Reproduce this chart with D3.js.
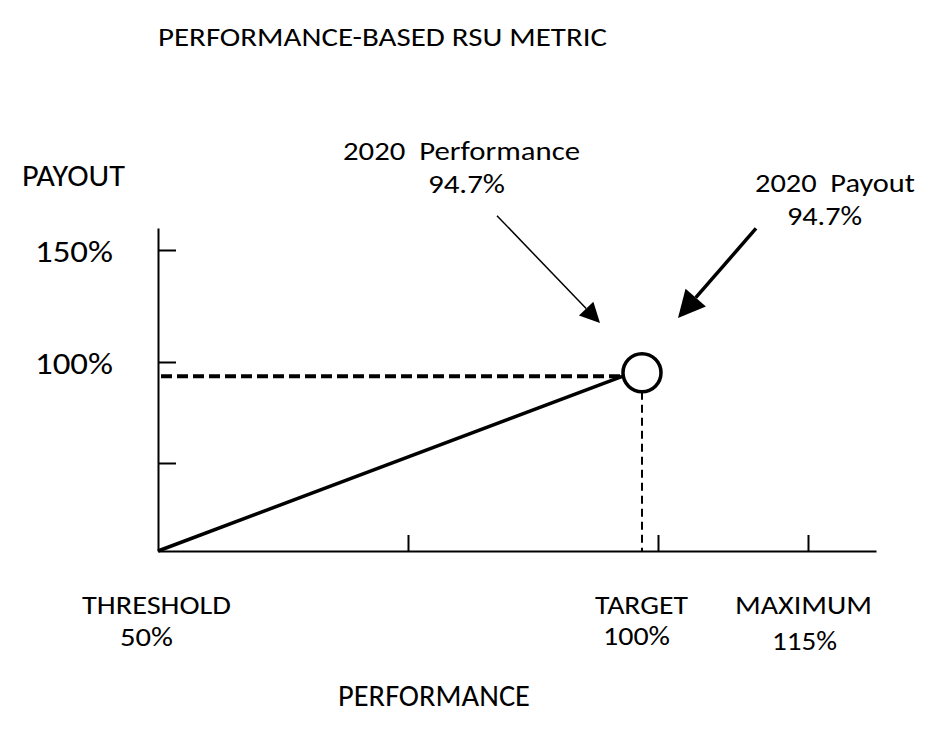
<!DOCTYPE html>
<html>
<head>
<meta charset="utf-8">
<script src="https://cdn.jsdelivr.net/npm/d3@7"></script>
<style>
  body { margin: 0; background: #fff; }
  svg text { font-family: "Carlito", "Open Sans", sans-serif; fill: #000; white-space: pre; }
</style>
</head>
<body>
<div id="chart"></div>
<script>
// --- DONNÉES ---
const perfTicks = [75, 100, 115];
const payTicks = [50, 100, 150];
const payLabels = [{ v: 150, t: "150%" }, { v: 100, t: "100%" }];
const perfLabels = [
    { v: 50, name: "THRESHOLD", pct: "50%" },
    { v: 100, name: "TARGET", pct: "100%" },
    { v: 115, name: "MAXIMUM", pct: "115%" }
];
// courbe de paiement (tracé schématique)
const payoutCurve = [{ perf: 50, pay: 0 }, { perf: 96.5, pay: 93 }];
const result = { perf: 98.4, pay: 94.7 };
const arrows = [
    { from: [83.9, 165.6], to: [94.2, 117.4], w: 1.5, head: 20, half: 10 },
    { from: [109.8, 159.8], to: [102.0, 119.6], w: 3.5, head: 27, half: 13.5 }
];

const width = 945, height = 746;

const svg = d3.select("#chart").append("svg")
    .attr("width", width).attr("height", height);

// échelles (axe Y schématique : polylinéaire)
const x = d3.scaleLinear().domain([50, 121.8]).range([158, 876]);
const y = d3.scaleLinear().domain([0, 50, 100, 150, 160]).range([551, 463, 362, 250, 228]);

// --- AXES ---
const yAxis = svg.append("g").attr("transform", `translate(${x(50)},0)`)
    .call(d3.axisLeft(y).tickValues(payTicks).tickSize(-18).tickSizeOuter(0).tickFormat(""));
const xAxis = svg.append("g").attr("transform", `translate(0,${y(0)})`)
    .call(d3.axisBottom(x).tickValues(perfTicks).tickSize(-16).tickSizeOuter(0).tickFormat(""));
[yAxis, xAxis].forEach(a => {
    a.selectAll("path,line").attr("stroke", "#000").attr("stroke-width", 2);
});

// --- TEXTES ---
function label(txt, px, py, size, len, anchor) {
    return svg.append("text")
        .attr("x", px).attr("y", py)
        .attr("text-anchor", anchor || "middle")
        .style("font-size", size + "px")
        .attr("textLength", len).attr("lengthAdjust", "spacingAndGlyphs")
        .text(txt);
}

label("PERFORMANCE-BASED RSU METRIC", 158, 46, 26.5, 449, "start");
label("PAYOUT", 22, 186, 31, 103, "start");

payLabels.forEach(d => label(d.t, 113, y(d.v) + 11.5, 30, 78, "end"));

const nameLen = { THRESHOLD: 149, TARGET: 93, MAXIMUM: 137 };
const nameDx = { 50: -1.5, 100: -16.5, 115: -4.5 };
const pctDx = { 50: -11.5, 100: -21.5, 115: -3.5 };
const pctLen = { "50%": 53, "100%": 67, "115%": 65 };
const pctDy = { 50: 95, 100: 94, 115: 99 };
perfLabels.forEach(d => {
    label(d.name, x(d.v) + nameDx[d.v], y(0) + 63, 26, nameLen[d.name]);
    label(d.pct, x(d.v) + pctDx[d.v], y(0) + pctDy[d.v], 26, pctLen[d.pct]);
});

label("PERFORMANCE", 434, 706, 30, 192);

label("2020  Performance", 461.5, 160, 26.5, 237);
label("94.7%", 466.5, 193, 26.5, 77);
label("2020  Payout", 835, 192, 26.5, 160);
label("94.7%", 824.5, 225, 26.5, 75);

// --- TRACÉS ---
// ligne pointillée horizontale (paiement)
svg.append("line")
    .attr("x1", x(50.3)).attr("x2", x(payoutCurve[1].perf))
    .attr("y1", y(payoutCurve[1].pay)).attr("y2", y(payoutCurve[1].pay))
    .attr("stroke", "#000").attr("stroke-width", 4).attr("stroke-dasharray", "11,5");

// ligne pointillée verticale (performance)
svg.append("line")
    .attr("x1", x(result.perf)).attr("x2", x(result.perf))
    .attr("y1", y(result.pay) + 19).attr("y2", y(0))
    .attr("stroke", "#000").attr("stroke-width", 2).attr("stroke-dasharray", "8,5");

// courbe de paiement
svg.append("path")
    .datum(payoutCurve)
    .attr("d", d3.line().x(d => x(d.perf)).y(d => y(d.pay)))
    .attr("fill", "none").attr("stroke", "#000").attr("stroke-width", 3.5);

// marqueur du résultat
svg.append("circle")
    .attr("cx", x(result.perf)).attr("cy", y(result.pay)).attr("r", 19)
    .attr("fill", "#fff").attr("stroke", "#000").attr("stroke-width", 3.5);

// flèches d'annotation
arrows.forEach(a => {
    const x1 = x(a.from[0]), y1 = y(a.from[1]);
    const x2 = x(a.to[0]), y2 = y(a.to[1]);
    const ang = Math.atan2(y2 - y1, x2 - x1);
    const bx = x2 - a.head * Math.cos(ang), by = y2 - a.head * Math.sin(ang);
    const nx = -Math.sin(ang) * a.half, ny = Math.cos(ang) * a.half;
    svg.append("line")
        .attr("x1", x1).attr("y1", y1).attr("x2", bx).attr("y2", by)
        .attr("stroke", "#000").attr("stroke-width", a.w);
    svg.append("path")
        .attr("d", `M${x2},${y2}L${bx + nx},${by + ny}L${bx - nx},${by - ny}Z`)
        .attr("fill", "#000");
});
</script>
</body>
</html>
